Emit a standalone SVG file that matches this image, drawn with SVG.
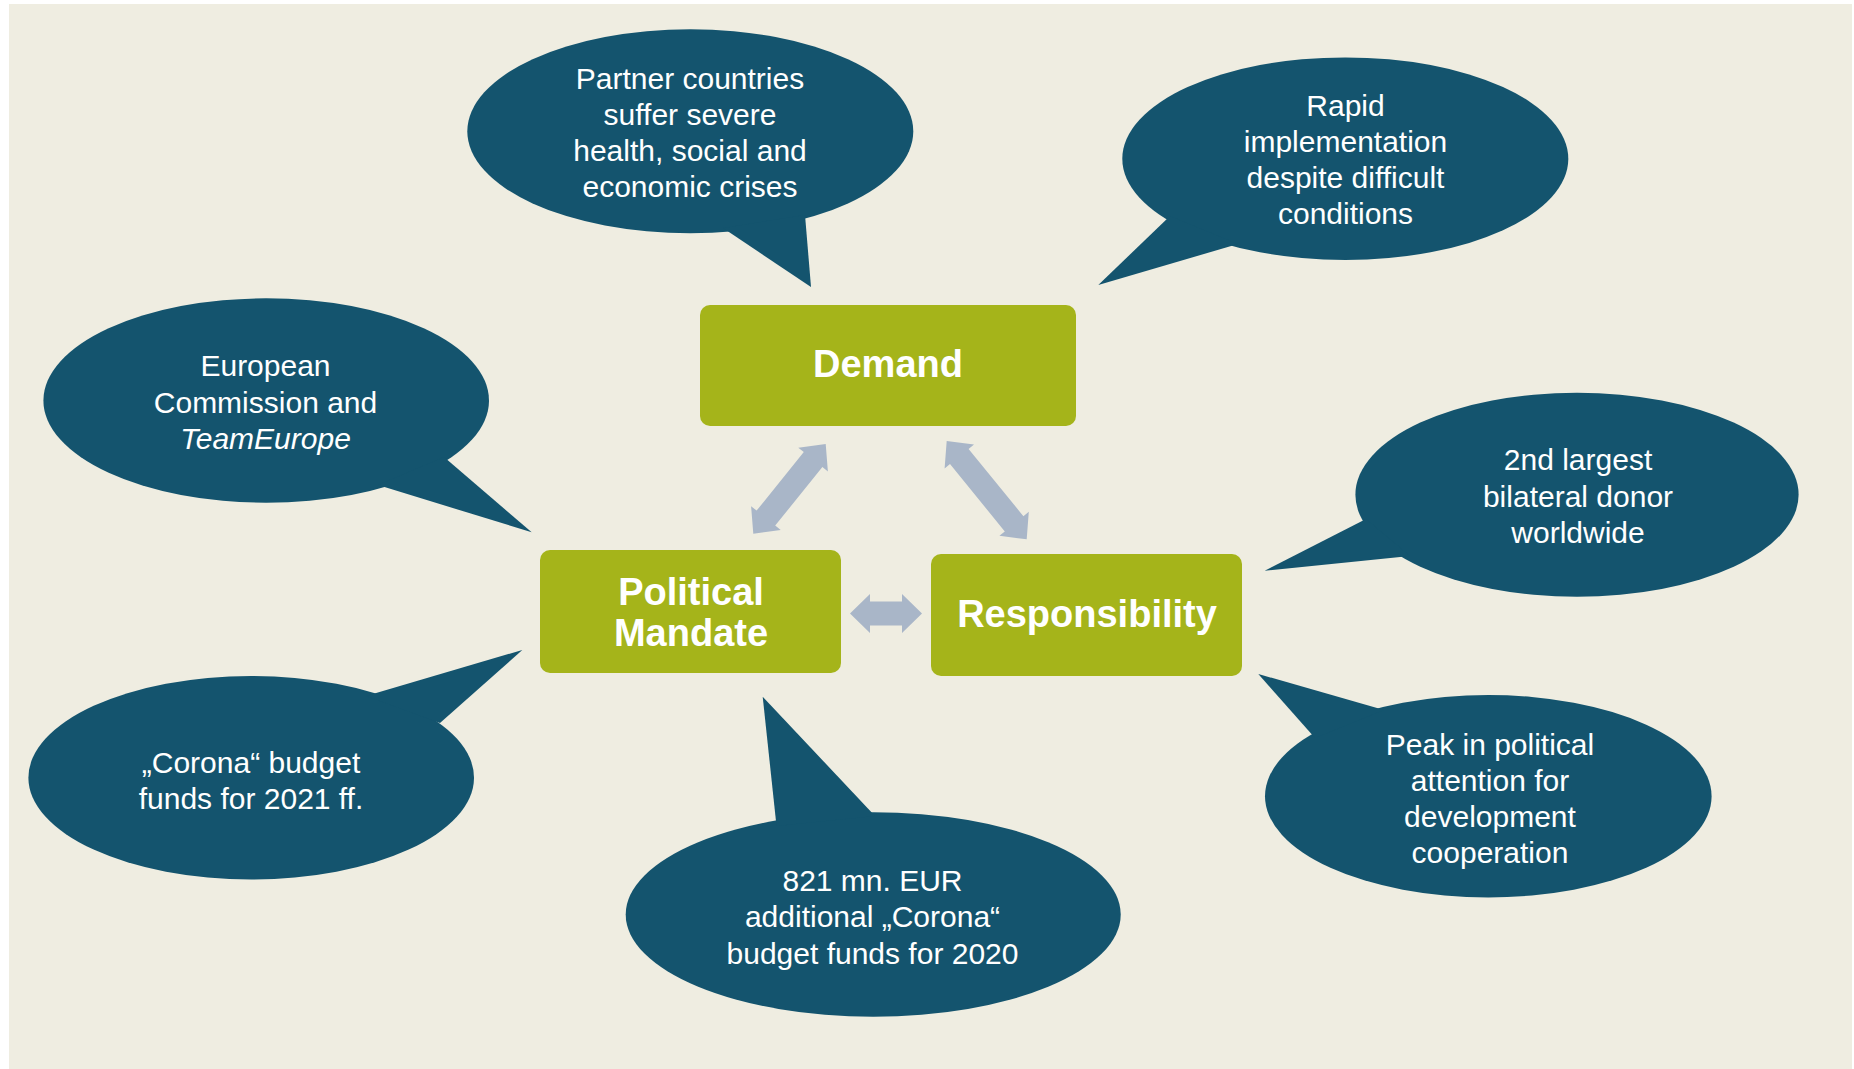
<svg xmlns="http://www.w3.org/2000/svg" width="1854" height="1069" viewBox="0 0 1854 1069">
<style>
.bg{fill:#EFEDE1}
.bubble{fill:#14546E}
.box{fill:#A5B41A}
.arrow{fill:#A9B6C8}
.bt{font-family:"Liberation Sans",Arial,sans-serif;font-size:30px;fill:#FFFFFF;text-anchor:middle}
.nt{font-family:"Liberation Sans",Arial,sans-serif;font-size:38px;font-weight:bold;fill:#FFFFFF;text-anchor:middle}
</style>
<rect x="0" y="0" width="1854" height="1069" fill="#FFFFFF"/>
<rect class="bg" x="9" y="4" width="1843" height="1065"/>

<g id="connectors">
<polygon class="arrow" points="753.3,533.7 780.7,530 775.2,525.6 822.4,467.1 827.9,471.5 825.7,444 798.3,447.7 803.8,452.1 756.6,510.6 751.1,506.2"/>
<polygon class="arrow" points="946.7,441 944.6,468.5 950,464.1 1004.8,531.4 999.4,535.8 1026.7,539.3 1028.8,511.8 1023.4,516.2 968.6,448.9 974,444.5"/>
<polygon class="arrow" points="850,613.5 870,594 870,601.5 902,601.5 902,594 922,613.5 902,633 902,625.5 870,625.5 870,633"/>
</g>

<g id="node-demand">
<rect class="box" x="700" y="305" width="376" height="121" rx="10"/>
<text class="nt" x="888" y="377">Demand</text>
</g>
<g id="node-political-mandate">
<rect class="box" x="540" y="550" width="301" height="123" rx="10"/>
<text class="nt" x="691" y="605">Political</text>
<text class="nt" x="691" y="646">Mandate</text>
</g>
<g id="node-responsibility">
<rect class="box" x="931" y="554" width="311" height="122" rx="10"/>
<text class="nt" x="1087" y="627">Responsibility</text>
</g>

<g id="bubble-partner-countries">
<ellipse class="bubble" cx="690.3" cy="131.3" rx="223" ry="102"/>
<polygon class="bubble" points="723,228 811,287 805,215"/>
<text class="bt" x="690" y="89">Partner countries</text>
<text class="bt" x="690" y="125">suffer severe</text>
<text class="bt" x="690" y="161">health, social and</text>
<text class="bt" x="690" y="197">economic crises</text>
</g>

<g id="bubble-rapid-implementation">
<ellipse class="bubble" cx="1345.3" cy="158.7" rx="223" ry="101.3"/>
<polygon class="bubble" points="1170,216 1098.3,285 1238,244"/>
<text class="bt" x="1345.5" y="116">Rapid</text>
<text class="bt" x="1345.5" y="152">implementation</text>
<text class="bt" x="1345.5" y="188">despite difficult</text>
<text class="bt" x="1345.5" y="224">conditions</text>
</g>

<g id="bubble-european-commission">
<ellipse class="bubble" cx="266.2" cy="400.5" rx="222.8" ry="102.2"/>
<polygon class="bubble" points="444,457 531.7,532.3 378,485"/>
<text class="bt" x="265.5" y="376">European</text>
<text class="bt" x="265.5" y="413">Commission  and</text>
<text class="bt" x="265.5" y="449" font-style="italic">TeamEurope</text>
</g>

<g id="bubble-second-largest-donor">
<ellipse class="bubble" cx="1577" cy="494.7" rx="221.6" ry="102"/>
<polygon class="bubble" points="1366,519 1264.7,570.7 1410,556"/>
<text class="bt" x="1578" y="470">2nd largest</text>
<text class="bt" x="1578" y="507">bilateral donor</text>
<text class="bt" x="1578" y="543">worldwide</text>
</g>

<g id="bubble-corona-2021">
<ellipse class="bubble" cx="251.2" cy="777.7" rx="222.8" ry="101.7"/>
<polygon class="bubble" points="366,696 522.3,650 440,723"/>
<text class="bt" x="251" y="773">„Corona“ budget</text>
<text class="bt" x="251" y="809">funds for 2021 ff.</text>
</g>

<g id="bubble-821-mn-eur">
<ellipse class="bubble" cx="873.2" cy="914.5" rx="247.5" ry="102.2"/>
<polygon class="bubble" points="776.5,826 762.7,696.7 875,816"/>
<text class="bt" x="872.5" y="891">821 mn. EUR</text>
<text class="bt" x="872.5" y="927">additional „Corona“</text>
<text class="bt" x="872.5" y="964">budget funds for 2020</text>
</g>

<g id="bubble-peak-attention">
<ellipse class="bubble" cx="1488.3" cy="796.2" rx="223.3" ry="101.2"/>
<polygon class="bubble" points="1315,738 1258.3,674 1384,710"/>
<text class="bt" x="1490" y="755">Peak in political</text>
<text class="bt" x="1490" y="791">attention for</text>
<text class="bt" x="1490" y="827">development</text>
<text class="bt" x="1490" y="863">cooperation</text>
</g>
</svg>
